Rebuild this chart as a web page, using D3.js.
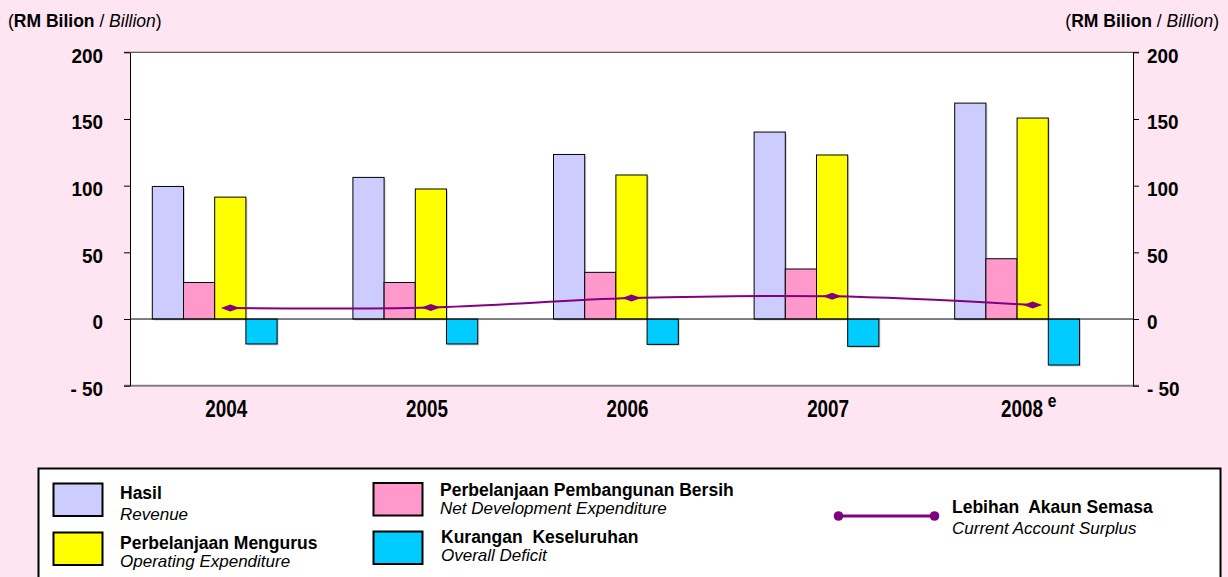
<!DOCTYPE html>
<html>
<head>
<meta charset="utf-8">
<script src="https://cdn.jsdelivr.net/npm/d3@7"></script>
<style>
  html, body { margin: 0; padding: 0; background: #FFE5F1; }
  svg { display: block; font-family: "Liberation Sans", Arial, sans-serif; }
</style>
</head>
<body>
<svg id="chart" width="1228" height="577"></svg>
<script>
// ---------------- DATA ----------------
const years = ["2004", "2005", "2006", "2007", "2008"];
const yearSup = ["", "", "", "", "e"];
const revenue = [99.4, 106.2, 123.4, 140.2, 161.9];
const netDevelopment = [27.4, 27.4, 35.0, 37.5, 45.2];
const operating = [91.4, 97.5, 108.0, 123.0, 150.7];
const deficit = [-18.7, -18.7, -19.0, -20.5, -34.5];
const surplus = [8.2, 8.7, 15.7, 17.0, 10.5];
const yTicks = [-50, 0, 50, 100, 150, 200];
const yTickLabels = ["- 50", "0", "50", "100", "150", "200"];

const seriesKeys = ["revenue", "netDev", "operating", "deficit", "_empty"];
const seriesValues = { revenue: revenue, netDev: netDevelopment, operating: operating, deficit: deficit };
const seriesColors = { revenue: "#CCCCFF", netDev: "#FF99CC", operating: "#FFFF00", deficit: "#00CCFF" };
const lineColor = "#800080";

const legendBars = [
  { key: "revenue", bold: "Hasil", italic: "Revenue" },
  { key: "operating", bold: "Perbelanjaan Mengurus", italic: "Operating Expenditure" },
  { key: "netDev", bold: "Perbelanjaan Pembangunan Bersih", italic: "Net Development Expenditure" },
  { key: "deficit", bold: "Kurangan  Keseluruhan", italic: "Overall Deficit" }
];
const legendLine = { bold: "Lebihan  Akaun Semasa", italic: "Current Account Surplus" };

// ---------------- LAYOUT ----------------
const svg = d3.select("#chart");
const plot = { l: 130, r: 1133, t: 52.3, b: 385.7 };

const y = d3.scaleLinear().domain([-50, 200]).range([plot.b, plot.t]);
const x0 = d3.scaleBand().domain(years).range([plot.l, plot.r]).padding(0);
const x1 = d3.scaleBand().domain(seriesKeys).range([0, x0.bandwidth()])
  .paddingInner(0).paddingOuter(0.715);

// background
svg.append("rect").attr("width", 1228).attr("height", 577).attr("fill", "#FFE5F1");

// plot area
svg.append("rect").attr("x", plot.l).attr("y", plot.t)
  .attr("width", plot.r - plot.l).attr("height", plot.b - plot.t).attr("fill", "#FFFFFF");

// bars
const barData = [];
years.forEach((yr, i) => {
  ["revenue", "netDev", "operating", "deficit"].forEach(k => {
    barData.push({ year: yr, key: k, value: seriesValues[k][i] });
  });
});

const barsG = svg.append("g");
barsG.selectAll("rect.shadow").data(barData).join("rect")
  .attr("class", "shadow")
  .attr("x", d => x0(d.year) + x1(d.key) + 1.5)
  .attr("y", d => Math.min(y(d.value), y(0)) + 1.5)
  .attr("width", x1.bandwidth())
  .attr("height", d => Math.abs(y(d.value) - y(0)))
  .attr("fill", "#9a9a9a").attr("opacity", 0.45);
barsG.selectAll("rect.bar").data(barData).join("rect")
  .attr("class", "bar")
  .attr("x", d => x0(d.year) + x1(d.key))
  .attr("y", d => Math.min(y(d.value), y(0)))
  .attr("width", x1.bandwidth())
  .attr("height", d => Math.abs(y(d.value) - y(0)))
  .attr("fill", d => seriesColors[d.key])
  .attr("stroke", "#000").attr("stroke-width", 1);

// zero line
svg.append("line").attr("x1", plot.l).attr("x2", plot.r)
  .attr("y1", y(0)).attr("y2", y(0)).attr("stroke", "#000").attr("stroke-width", 1);

// top and bottom borders
svg.append("line").attr("x1", plot.l - 6).attr("x2", plot.r + 6)
  .attr("y1", plot.t).attr("y2", plot.t).attr("stroke", "#333").attr("stroke-width", 1);
svg.append("line").attr("x1", plot.l - 6).attr("x2", plot.r + 6)
  .attr("y1", plot.b).attr("y2", plot.b).attr("stroke", "#808080").attr("stroke-width", 2);

// axes (lines and ticks)
const leftAxis = d3.axisLeft(y).tickValues(yTicks).tickSize(6).tickSizeOuter(0).tickFormat("");
const rightAxis = d3.axisRight(y).tickValues(yTicks).tickSize(6).tickSizeOuter(0).tickFormat("");
svg.append("g").attr("transform", `translate(${plot.l},0)`).call(leftAxis)
  .call(g => g.selectAll("path,line").attr("stroke", "#000"));
svg.append("g").attr("transform", `translate(${plot.r},0)`).call(rightAxis)
  .call(g => g.selectAll("path,line").attr("stroke", "#000"));

// surplus line
const pts = years.map((yr, i) => [x0(yr) + x0.bandwidth() / 2, y(surplus[i])]);
svg.append("path").attr("d", d3.line().curve(d3.curveCatmullRom.alpha(0.5))(pts))
  .attr("fill", "none").attr("stroke", lineColor).attr("stroke-width", 2);
svg.selectAll("path.marker").data(pts).join("path")
  .attr("class", "marker")
  .attr("d", d => `M${d[0] - 9.5},${d[1]} L${d[0]},${d[1] - 3.5} L${d[0] + 9.5},${d[1]} L${d[0]},${d[1] + 3.5} Z`)
  .attr("fill", lineColor);

// compressed bold text helper
function ctext(parent, x, yy, str, size, sx, anchor) {
  return parent.append("text")
    .attr("transform", `translate(${x},${yy}) scale(${sx},1)`)
    .attr("text-anchor", anchor)
    .attr("font-size", size).attr("font-weight", "bold").attr("fill", "#000")
    .text(str);
}

// y tick labels
yTicks.forEach((v, i) => {
  ctext(svg, 103, y(v) + 10.4, yTickLabels[i], 21, 0.9, "end");
  ctext(svg, 1147, y(v) + 10.4, yTickLabels[i], 21, 0.9, "start");
});

// x labels
years.forEach((yr, i) => {
  const t = ctext(svg, x0(yr) + x0.bandwidth() / 2 - 4, 416.7, yr, 23, 0.82, "middle");
  if (yearSup[i]) {
    t.append("tspan").attr("dx", 6).attr("dy", -10).attr("font-size", 19).text(yearSup[i]);
  }
});

// unit titles
function unitTitle(x, anchor) {
  const t = svg.append("text").attr("x", x).attr("y", 26.7).attr("font-size", 17.5)
    .attr("text-anchor", anchor).attr("fill", "#000");
  t.append("tspan").text("(");
  t.append("tspan").attr("font-weight", "bold").text("RM Bilion");
  t.append("tspan").text(" / ");
  t.append("tspan").attr("font-style", "italic").text("Billion");
  t.append("tspan").text(")");
}
unitTitle(8, "start");
unitTitle(1219, "end");

// ---------------- LEGEND ----------------
const lg = svg.append("g");
lg.append("rect").attr("x", 38.5).attr("y", 468.5).attr("width", 1182).attr("height", 130)
  .attr("fill", "#fff").attr("stroke", "#000").attr("stroke-width", 2);

const legPos = [
  { sx: 53.5, sy: 483.5, tx: 120, b1: 499.3, b2: 520 },
  { sx: 53.5, sy: 532.5, tx: 120, b1: 549.3, b2: 566.5 },
  { sx: 373.5, sy: 483, tx: 440, b1: 496, b2: 513.5 },
  { sx: 373.5, sy: 531.5, tx: 441, b1: 543.3, b2: 560.5 }
];
legendBars.forEach((d, i) => {
  const p = legPos[i];
  lg.append("rect").attr("x", p.sx).attr("y", p.sy).attr("width", 49).attr("height", 32.5)
    .attr("fill", seriesColors[d.key]).attr("stroke", "#000").attr("stroke-width", 2);
  lg.append("text").attr("x", p.tx).attr("y", p.b1).attr("font-size", 17.5).attr("font-weight", "bold")
    .style("white-space", "pre").text(d.bold);
  lg.append("text").attr("x", p.tx).attr("y", p.b2).attr("font-size", 17).attr("font-style", "italic")
    .text(d.italic);
});
lg.append("line").attr("x1", 838.5).attr("x2", 934.5).attr("y1", 516).attr("y2", 516)
  .attr("stroke", lineColor).attr("stroke-width", 3);
[838.5, 934.5].forEach(cx => lg.append("circle").attr("cx", cx).attr("cy", 516).attr("r", 4.8).attr("fill", lineColor));
lg.append("text").attr("x", 952).attr("y", 513.3).attr("font-size", 17.5).attr("font-weight", "bold")
  .style("white-space", "pre").text(legendLine.bold);
lg.append("text").attr("x", 952).attr("y", 534).attr("font-size", 17).attr("font-style", "italic")
  .text(legendLine.italic);
</script>
</body>
</html>
